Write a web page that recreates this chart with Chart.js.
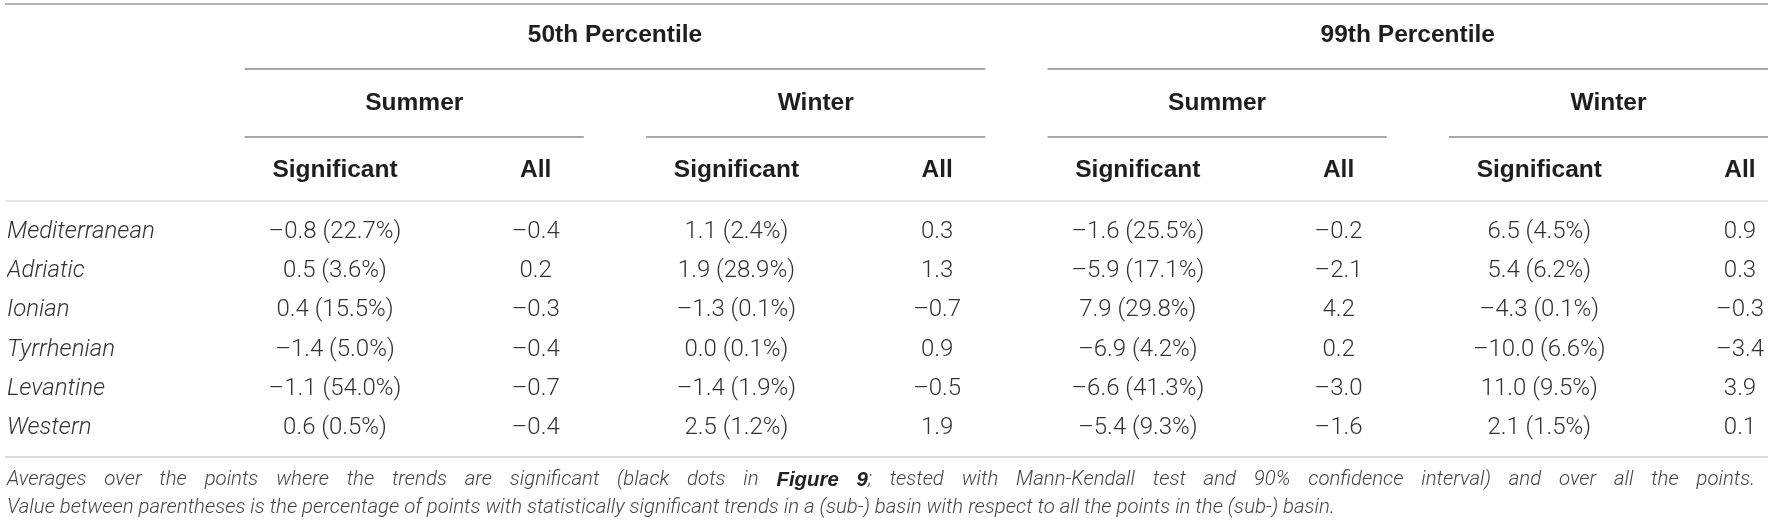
<!DOCTYPE html>
<html>
<head>
<meta charset="utf-8">
<title>Trend averages per basin</title>
<script src="https://cdn.jsdelivr.net/npm/chart.js@4.4.1/dist/chart.umd.min.js"></script>
<style>
  html, body { margin: 0; padding: 0; background: #fff; }
  #wrap { width: 1772px; height: 530px; position: relative; }
</style>
</head>
<body>
<div id="wrap"><canvas id="trendTable"></canvas></div>
<script>
// rows and columns of the table
const basins = ['Mediterranean', 'Adriatic', 'Ionian', 'Tyrrhenian', 'Levantine', 'Western'];
const columnKeys = ['p50SumSig', 'p50SumAll', 'p50WinSig', 'p50WinAll', 'p99SumSig', 'p99SumAll', 'p99WinSig', 'p99WinAll'];
const subHeads = ['Significant', 'All', 'Significant', 'All', 'Significant', 'All', 'Significant', 'All'];
const seasons = ['Summer', 'Winter', 'Summer', 'Winter'];
const percentiles = ['50th Percentile', '99th Percentile'];

// 50th percentile
const p50SummerSig = [-0.8, 0.5, 0.4, -1.4, -1.1, 0.6];
const p50SummerSigPct = [22.7, 3.6, 15.5, 5.0, 54.0, 0.5];
const p50SummerAll = [-0.4, 0.2, -0.3, -0.4, -0.7, -0.4];
const p50WinterSig = [1.1, 1.9, -1.3, 0.0, -1.4, 2.5];
const p50WinterSigPct = [2.4, 28.9, 0.1, 0.1, 1.9, 1.2];
const p50WinterAll = [0.3, 1.3, -0.7, 0.9, -0.5, 1.9];

// 99th percentile
const p99SummerSig = [-1.6, -5.9, 7.9, -6.9, -6.6, -5.4];
const p99SummerSigPct = [25.5, 17.1, 29.8, 4.2, 41.3, 9.3];
const p99SummerAll = [-0.2, -2.1, 4.2, 0.2, -3.0, -1.6];
const p99WinterSig = [6.5, 5.4, -4.3, -10.0, 11.0, 2.1];
const p99WinterSigPct = [4.5, 6.2, 0.1, 6.6, 9.5, 1.5];
const p99WinterAll = [0.9, 0.3, -0.3, -3.4, 3.9, 0.1];

const captionLine1 = 'Averages over the points where the trends are significant (black dots in **Figure 9**; tested with Mann-Kendall test and 90% confidence interval) and over all the points.';
const captionLine2 = 'Value between parentheses is the percentage of points with statistically significant trends in a (sub-) basin with respect to all the points in the (sub-) basin.';

const columnValues = [p50SummerSig, p50SummerAll, p50WinterSig, p50WinterAll, p99SummerSig, p99SummerAll, p99WinterSig, p99WinterAll];
const columnPct = [p50SummerSigPct, null, p50WinterSigPct, null, p99SummerSigPct, null, p99WinterSigPct, null];

const lightFamily = "Roboto, 'Liberation Sans', Arial, sans-serif";
const boldFamily = "'Liberation Sans', Arial, sans-serif";

function fmt(v) {
  let s = Math.abs(v).toFixed(1);
  return v < 0 ? '\u2013' + s : s;
}

let datasets = columnKeys.map(function (key, c) {
  return {
    label: key,
    data: basins.map(function (b, r) {
      return { x: key, y: b, v: columnValues[c][r], p: columnPct[c] ? columnPct[c][r] : null };
    }),
    pointRadius: 0,
    pointHoverRadius: 0,
  };
});

function hLine(ctx, x1, x2, y, color, w) {
  ctx.save();
  ctx.strokeStyle = color;
  ctx.lineWidth = w;
  ctx.beginPath();
  ctx.moveTo(x1, y);
  ctx.lineTo(x2, y);
  ctx.stroke();
  ctx.restore();
}

// draws cells, header rows, rules and the caption
const tablePlugin = {
  id: 'tablePlugin',
  afterDatasetsDraw(chart) {
    let ctx = chart.ctx;
    let area = chart.chartArea;
    let xs = chart.scales.x;
    let top = area.top;
    let ruleLeft = 5;
    let ruleRight = area.right + 28;

    ctx.save();
    // cells
    ctx.font = '300 24px ' + lightFamily;
    ctx.fillStyle = '#333';
    ctx.textAlign = 'center';
    ctx.textBaseline = 'middle';
    chart.data.datasets.forEach(function (ds, i) {
      let meta = chart.getDatasetMeta(i);
      meta.data.forEach(function (pt, r) {
        let d = ds.data[r];
        let txt = fmt(d.v);
        if (d.p !== null) {
          txt += ' (' + d.p.toFixed(1) + '%)';
        }
        ctx.fillText(txt, pt.x, pt.y);
      });
    });

    // header rows
    ctx.font = 'bold 24.5px ' + boldFamily;
    ctx.fillStyle = '#1e1e1e';
    subHeads.forEach(function (h, c) {
      ctx.fillText(h, xs.getPixelForValue(c), top - 62);
    });

    function span(c0, c1) {
      let a = xs.getPixelForValue(c0 - 0.45);
      let b = Math.min(xs.getPixelForValue(c1 + 0.24), ruleRight);
      return [a, b];
    }

    seasons.forEach(function (s, g) {
      let c0 = g * 2;
      let sp = span(c0, c0 + 1);
      ctx.fillText(s, (sp[0] + sp[1]) / 2, top - 129);
      hLine(ctx, sp[0], sp[1], top - 95, '#8a8a8a', 1.5);
    });

    percentiles.forEach(function (p, g) {
      let c0 = g * 4;
      let sp = span(c0, c0 + 3);
      ctx.fillText(p, (sp[0] + sp[1]) / 2, top - 197);
      hLine(ctx, sp[0], sp[1], top - 163, '#8a8a8a', 1.5);
    });

    // rules
    hLine(ctx, ruleLeft, ruleRight, 4, '#999', 1.5);
    hLine(ctx, ruleLeft, ruleRight, top - 31, '#dcdcdc', 1.5);
    hLine(ctx, ruleLeft, ruleRight, area.bottom + 29, '#cfcfcf', 1.5);

    // caption
    let capLeft = 7;
    let capRight = area.right + 15;
    drawCaption(ctx, captionLine1, capLeft, capRight, area.bottom + 52, true);
    drawCaption(ctx, captionLine2, capLeft, capRight, area.bottom + 80, false);
    ctx.restore();
  },
};

function drawCaption(ctx, text, left, right, y, justify) {
  let regular = 'italic 300 20.4px ' + lightFamily;
  let bold = 'italic bold 20.4px ' + boldFamily;
  // split into words; **...** marks bold pieces
  let pieces = [];
  text.split(/(\*\*[^*]+\*\*)/).forEach(function (part) {
    if (part.startsWith('**')) {
      pieces.push({ t: part.slice(2, -2), b: true });
    } else if (part.length) {
      pieces.push({ t: part, b: false });
    }
  });
  let words = [[]];
  pieces.forEach(function (p) {
    let bits = p.t.split(' ');
    bits.forEach(function (w, k) {
      if (k > 0) words.push([]);
      if (w.length) words[words.length - 1].push({ t: w, b: p.b });
    });
  });
  words = words.filter(function (w) { return w.length; });

  ctx.textAlign = 'left';
  ctx.textBaseline = 'middle';
  let widths = words.map(function (w) {
    return w.reduce(function (acc, p) {
      ctx.font = p.b ? bold : regular;
      return acc + ctx.measureText(p.t).width;
    }, 0);
  });
  ctx.font = regular;
  let space = ctx.measureText(' ').width;
  if (justify) {
    let total = widths.reduce(function (a, b) { return a + b; }, 0);
    space = (right - left - total) / (words.length - 1);
  }
  let x = left;
  words.forEach(function (w) {
    w.forEach(function (p) {
      ctx.font = p.b ? bold : regular;
      ctx.fillStyle = p.b ? '#222' : '#444';
      ctx.fillText(p.t, x, y);
      x += ctx.measureText(p.t).width;
    });
    x += space;
  });
}

new Chart(document.getElementById('trendTable'), {
  type: 'scatter',
  data: { datasets: datasets },
  options: {
    responsive: true,
    maintainAspectRatio: false,
    animation: false,
    events: [],
    layout: { padding: { left: 7, right: 32, top: 232, bottom: 102 } },
    plugins: { legend: { display: false }, tooltip: { enabled: false } },
    scales: {
      x: {
        type: 'category',
        labels: columnKeys,
        offset: false,
        display: false,
      },
      y: {
        type: 'category',
        labels: basins,
        offset: false,
        grid: { display: false },
        border: { display: false },
        afterFit: function (scale) {
          scale.width = 328;
        },
        ticks: {
          crossAlign: 'far',
          padding: 0,
          color: '#333',
          font: { family: lightFamily, size: 24, style: 'italic', weight: 300 },
        },
      },
    },
  },
  plugins: [tablePlugin],
});
</script>
</body>
</html>
